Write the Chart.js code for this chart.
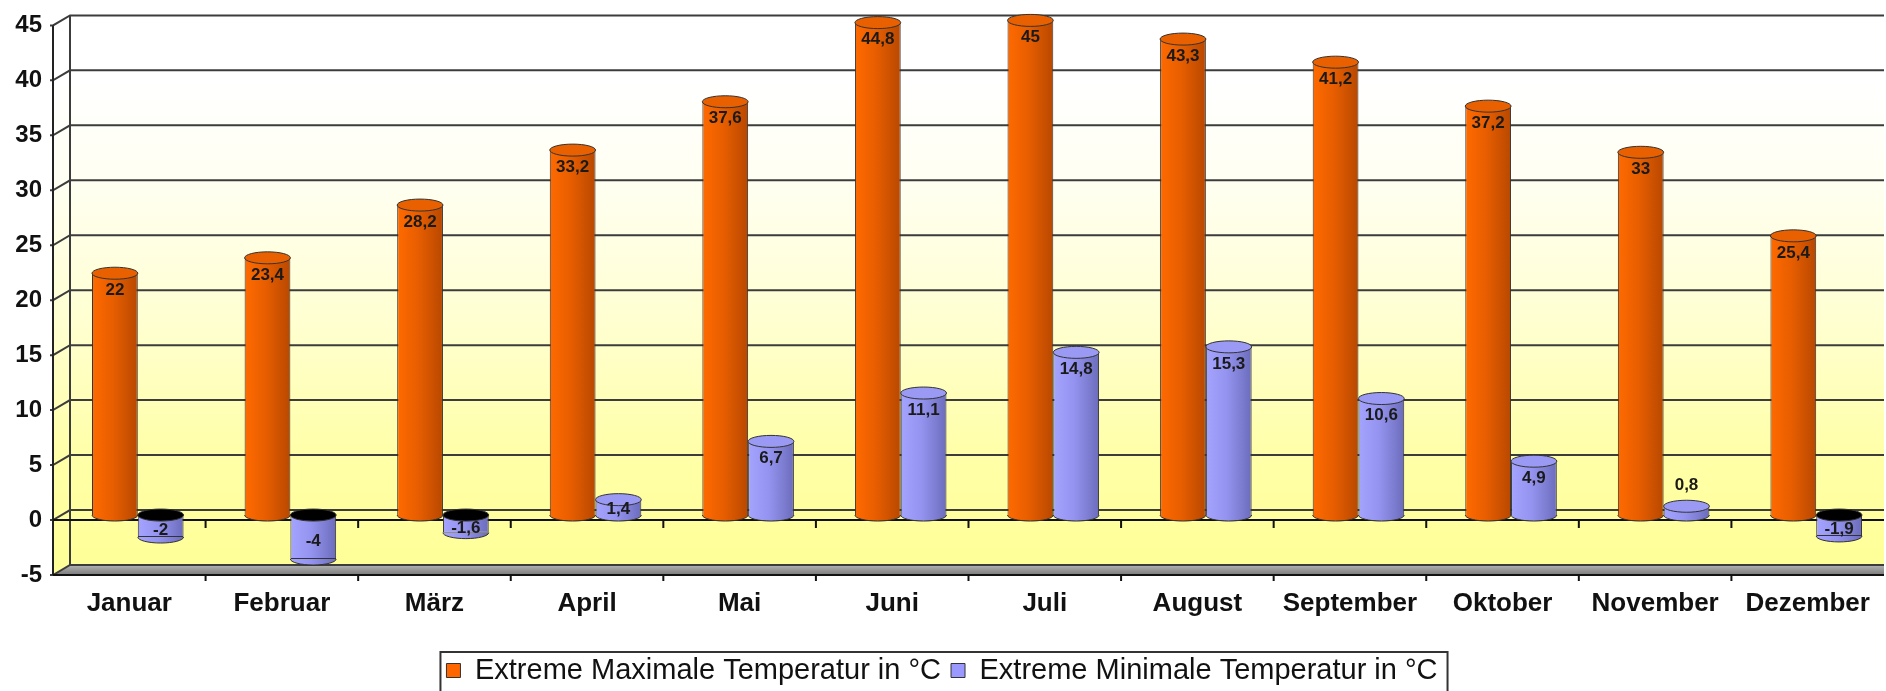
<!DOCTYPE html>
<html>
<head>
<meta charset="utf-8">
<script src="https://cdn.jsdelivr.net/npm/chart.js@4.4.1/dist/chart.umd.min.js"></script>
<style>
  html, body { margin: 0; background: #fff; }
  #wrap { width: 1886px; height: 691px; }
</style>
</head>
<body>
<div id="wrap"><canvas id="myChart"></canvas></div>
<script>
const months = ["Januar", "Februar", "März", "April", "Mai", "Juni", "Juli", "August", "September", "Oktober", "November", "Dezember"];
const maxTemps = [22, 23.4, 28.2, 33.2, 37.6, 44.8, 45, 43.3, 41.2, 37.2, 33, 25.4];
const minTemps = [-2, -4, -1.6, 1.4, 6.7, 11.1, 14.8, 15.3, 10.6, 4.9, 0.8, -1.9];
const seriesNames = ["Extreme Maximale Temperatur in °C", "Extreme Minimale Temperatur in °C"];
const yMin = -5, yMax = 45, yStep = 5;

// depth offset of the back wall (fake 3d)
const DX = 17, DY = -10;
const FONT = "'Liberation Sans', Arial, sans-serif";

const ctx = document.getElementById("myChart").getContext("2d");

// colours for bar bodies: left, middle, right
const shades = [
  ["#ff6a00", "#e85e00", "#b84800"],
  ["#a4a4ff", "#9494f0", "#6c6cbc"],
];
const capColors = ["#e86000", "#9a9af4"];

//Wall, floor and grid
const wallPlugin = {
  id: "wall",
  beforeDraw(chart) {
    const c = chart.ctx, a = chart.chartArea, y = chart.scales.y;
    c.save();
    let g = c.createLinearGradient(0, a.top + DY, 0, a.bottom + DY);
    g.addColorStop(0, "#ffffff");
    g.addColorStop(0.12, "#ffffff");
    g.addColorStop(0.3, "#fffff2");
    g.addColorStop(0.55, "#ffffd2");
    g.addColorStop(0.8, "#ffffa8");
    g.addColorStop(1, "#ffff98");
    c.fillStyle = g;
    c.beginPath();
    c.moveTo(a.left, a.top);
    c.lineTo(a.left + DX, a.top + DY);
    c.lineTo(a.right, a.top + DY);
    c.lineTo(a.right, a.bottom);
    c.lineTo(a.left, a.bottom);
    c.closePath();
    c.fill();

    // floor
    let fg = c.createLinearGradient(0, a.bottom + DY, 0, a.bottom);
    fg.addColorStop(0, "#b4b4b4");
    fg.addColorStop(1, "#7a7a7a");
    c.fillStyle = fg;
    c.beginPath();
    c.moveTo(a.left, a.bottom);
    c.lineTo(a.left + DX, a.bottom + DY);
    c.lineTo(a.right, a.bottom + DY);
    c.lineTo(a.right, a.bottom);
    c.closePath();
    c.fill();

    // grid on the back wall
    c.strokeStyle = "#3c3c3c";
    c.lineWidth = 2;
    for (let v = yMin; v <= yMax; v += yStep) {
      const py = y.getPixelForValue(v);
      c.beginPath();
      c.moveTo(a.left - 3, py);
      c.lineTo(a.left, py);
      c.lineTo(a.left + DX, py + DY);
      c.lineTo(a.right, py + DY);
      c.stroke();
    }
    // wall edges
    c.beginPath();
    c.moveTo(a.left + DX, a.top + DY);
    c.lineTo(a.left + DX, a.bottom + DY);
    c.stroke();
    c.strokeStyle = "#222";
    c.beginPath();
    c.moveTo(a.left, a.top);
    c.lineTo(a.left, a.bottom);
    c.stroke();

    // front edge of floor + zero line with category ticks
    const y0 = y.getPixelForValue(0);
    const step = (a.right - a.left) / months.length;
    c.strokeStyle = "#111";
    c.beginPath();
    c.moveTo(a.left, a.bottom);
    c.lineTo(a.right, a.bottom);
    c.moveTo(a.left, y0);
    c.lineTo(a.right, y0);
    for (let i = 1; i < months.length; i++) {
      const px = a.left + step * i;
      c.moveTo(px, y0);
      c.lineTo(px, y0 + 8);
      c.moveTo(px, a.bottom);
      c.lineTo(px, a.bottom + 6);
    }
    c.stroke();
    c.restore();
  },
  beforeDatasetsDraw(chart) {
    chart.data.datasets.forEach((ds, di) => {
      const meta = chart.getDatasetMeta(di);
      meta.data.forEach((el) => {
        const g = chart.ctx.createLinearGradient(el.x - el.width / 2, 0, el.x + el.width / 2, 0);
        g.addColorStop(0, shades[di][0]);
        g.addColorStop(0.45, shades[di][1]);
        g.addColorStop(1, shades[di][2]);
        el.options = Object.assign({}, el.options, { backgroundColor: g });
      });
    });
    // bars stand in the middle of the depth
    chart.ctx.save();
    chart.ctx.translate(DX / 2, DY / 2);
  },
  afterDatasetsDraw(chart) {
    const c = chart.ctx;
    chart.data.datasets.forEach((ds, di) => {
      const meta = chart.getDatasetMeta(di);
      meta.data.forEach((el, i) => {
        const rx = el.width / 2, ry = 6;
        const pos = ds.data[i] >= 0;
        c.lineWidth = 1;
        c.strokeStyle = "#333";
        // rounded end at the lower side
        const lowY = pos ? el.base : el.y;
        c.fillStyle = el.options.backgroundColor;
        c.beginPath();
        c.ellipse(el.x, lowY, rx, ry, 0, 0, Math.PI);
        c.fill();
        c.stroke();
        // top face
        const topY = pos ? el.y : el.base;
        c.fillStyle = pos ? capColors[di] : "#000";
        c.beginPath();
        c.ellipse(el.x, topY, rx, ry, 0, 0, Math.PI * 2);
        c.fill();
        c.stroke();
      });
    });

    // value labels
    c.font = "bold 17px " + FONT;
    c.fillStyle = "#1a1a1a";
    c.textAlign = "center";
    c.textBaseline = "middle";
    chart.data.datasets.forEach((ds, di) => {
      const meta = chart.getDatasetMeta(di);
      meta.data.forEach((el, i) => {
        const v = ds.data[i];
        const txt = String(v).replace(".", ",");
        const h = Math.abs(el.base - el.y);
        let ty;
        if (v < 0) ty = (el.base + el.y) / 2 + 4;
        else if (h >= 28) ty = el.y + 17;
        else if (h >= 12) ty = (el.y + el.base) / 2 + 2;
        else ty = el.y - 21;
        c.fillText(txt, el.x, ty);
      });
    });
    c.restore();
  },
  afterDraw(chart) {
    const lg = chart.legend;
    if (!lg || !lg.legendHitBoxes.length) return;
    const boxes = lg.legendHitBoxes;
    const l = Math.min(...boxes.map(b => b.left)) - 6;
    const r = Math.max(...boxes.map(b => b.left + b.width)) + 10;
    const t = boxes[0].top - 4;
    const c = chart.ctx;
    c.save();
    c.strokeStyle = "#333";
    c.lineWidth = 2;
    c.beginPath();
    c.moveTo(l, chart.height + 2);
    c.lineTo(l, t);
    c.lineTo(r, t);
    c.lineTo(r, chart.height + 2);
    c.stroke();
    c.restore();
  },
};

const data = {
  labels: months,
  datasets: [
    {
      label: seriesNames[0],
      data: maxTemps,
      backgroundColor: "#ff6600",
      borderColor: "#333",
      borderWidth: 1,
    },
    {
      label: seriesNames[1],
      data: minTemps,
      backgroundColor: "#9999ff",
      borderColor: "#333",
      borderWidth: 1,
    },
  ],
};

const config = {
  type: "bar",
  data: data,
  plugins: [wallPlugin],
  options: {
    responsive: true,
    maintainAspectRatio: false,
    animation: false,
    layout: { padding: { top: 24, right: 2, left: 0, bottom: -4 } },
    datasets: { bar: { categoryPercentage: 0.6, barPercentage: 1 } },
    plugins: {
      tooltip: { enabled: false },
      legend: {
        position: "bottom",
        labels: {
          font: { family: FONT, size: 29 },
          color: "#111",
          boxWidth: 14,
          boxHeight: 14,
          padding: 10,
        },
      },
    },
    scales: {
      x: {
        grid: { display: false, drawTicks: false },
        border: { display: false },
        afterFit: (s) => { s.height = 71; },
        ticks: {
          font: { family: FONT, size: 26, weight: "bold" },
          color: "#111",
          padding: 13,
          maxRotation: 0,
        },
      },
      y: {
        min: yMin,
        max: yMax,
        grid: { display: false, drawTicks: false },
        border: { display: false },
        afterFit: (s) => { s.width = 53; },
        ticks: {
          stepSize: yStep,
          font: { family: FONT, size: 24, weight: "bold" },
          color: "#111",
          padding: 11,
        },
      },
    },
  },
};

const myChart = new Chart(ctx, config);
</script>
</body>
</html>
